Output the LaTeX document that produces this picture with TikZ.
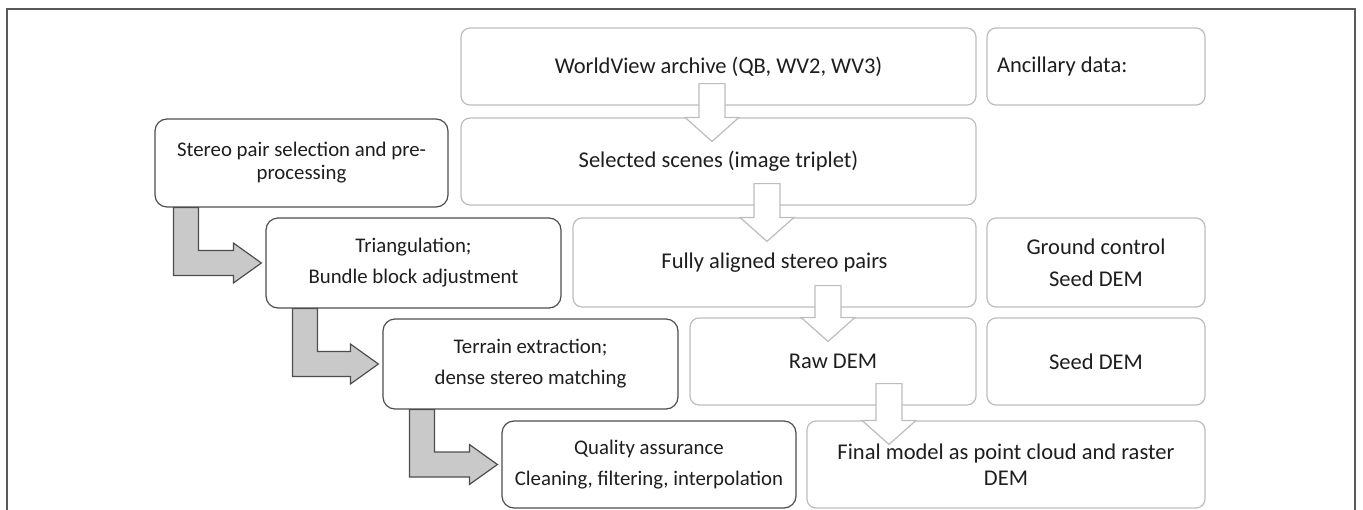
\documentclass[tikz,border=0pt]{standalone}
\usepackage{fontspec}
\setmainfont{Carlito}
\usetikzlibrary{calc}

\definecolor{txtgray}{HTML}{1E1E1E}
\definecolor{procline}{HTML}{4D4D4D}
\definecolor{dataline}{HTML}{BDBDBD}
\definecolor{arrowfill}{HTML}{C9C9C9}
\definecolor{framegray}{HTML}{5A5A5A}

\begin{document}
\begin{tikzpicture}[x=1pt, y=-1pt,
	proc/.style={draw=procline, line width=1.2pt, rounded corners=12pt, fill=white, text=txtgray, align=center, inner sep=0pt, font=\fontsize{20.8}{31}\selectfont},
	data/.style={draw=dataline, line width=1.2pt, rounded corners=9pt, fill=white, text=txtgray, align=center, inner sep=0pt, font=\fontsize{22.5}{27}\selectfont},
	greyarrow/.style={draw=procline, line width=1.2pt, fill=arrowfill},
	whitearrow/.style={draw=dataline, line width=1.2pt, fill=white}]

	\useasboundingbox (0, 0) rectangle (1363, 509);

	\draw
		[draw=framegray, line width=1.5pt] (7, 520) -- (7, 9) -- (1355, 9) -- (1355, 520);

	\node (archive) at (718.5, 66.5) [data, minimum width=515pt, minimum height=77pt] {WorldView archive (QB, WV2, WV3)};
	\node (ancillary) at (1096, 66.5) [data, minimum width=218pt, minimum height=77pt, text width=198pt, align=flush left] {Ancillary data:};

	\node (stereo) at (301.5, 163) [proc, minimum width=293pt, minimum height=88pt, font=\fontsize{20.8}{23}\selectfont] {Stereo pair selection and pre-\\processing};
	\node (scenes) at (718.5, 161.5) [data, minimum width=515pt, minimum height=87pt] {Selected scenes (image triplet)};

	\node (tri) at (413.5, 263) [proc, minimum width=295pt, minimum height=90pt] {Triangulation;\\Bundle block adjustment};
	\node (aligned) at (774.5, 262.5) [data, minimum width=403pt, minimum height=89pt] {Fully aligned stereo pairs};
	\node (ground) at (1096, 262.5) [data, minimum width=218pt, minimum height=89pt, font=\fontsize{22.5}{32}\selectfont] {Ground control\\Seed DEM};

	\node (terrain) at (530.5, 364) [proc, minimum width=295pt, minimum height=90pt] {Terrain extraction;\\dense stereo matching};
	\node (raw) at (833, 361.5) [data, minimum width=286pt, minimum height=87pt] {Raw DEM};
	\node (seed) at (1096, 361.5) [data, minimum width=218pt, minimum height=87pt] {Seed DEM};

	\node (quality) at (649, 464.5) [proc, minimum width=294pt, minimum height=87pt] {Quality assurance\\Cleaning, filtering, interpolation};
	\node (final) at (1006, 464.5) [data, minimum width=398pt, minimum height=87pt, font=\fontsize{22.5}{26}\selectfont] {Final model as point cloud and raster\\DEM};

	\foreach \src/\dst/\off in {stereo/tri/19, tri/terrain/27, terrain/quality/27}
		\draw
			[greyarrow] ($(\src.south west)+(\off,0)$) -- ($(\src.south west |- \dst.west)+(\off,12.5)$) -- ($(\dst.west)+(-32,12.5)$) -- ($(\dst.west)+(-32,20)$) -- ($(\dst.west)+(-4,0)$) -- ($(\dst.west)+(-32,-20)$) -- ($(\dst.west)+(-32,-12.5)$) -- ($(\src.south west |- \dst.west)+(\off+25,-12.5)$) -- ($(\src.south west)+(\off+25,0)$) -- cycle;

	\foreach \ax/\src/\dst in {712/archive/scenes, 767/scenes/aligned, 828/aligned/raw, 889/raw/final} {
		\coordinate (axis) at (\ax, 0);
		\draw
			[whitearrow] ($(axis |- \src.south)+(-13,-22)$) -- ($(axis |- \dst.north)+(-13,0)$) -- ($(axis |- \dst.north)+(-27,0)$) -- ($(axis |- \dst.north)+(0,24)$) -- ($(axis |- \dst.north)+(27,0)$) -- ($(axis |- \dst.north)+(13,0)$) -- ($(axis |- \src.south)+(13,-22)$) -- cycle;
	}

\end{tikzpicture}
\end{document}
